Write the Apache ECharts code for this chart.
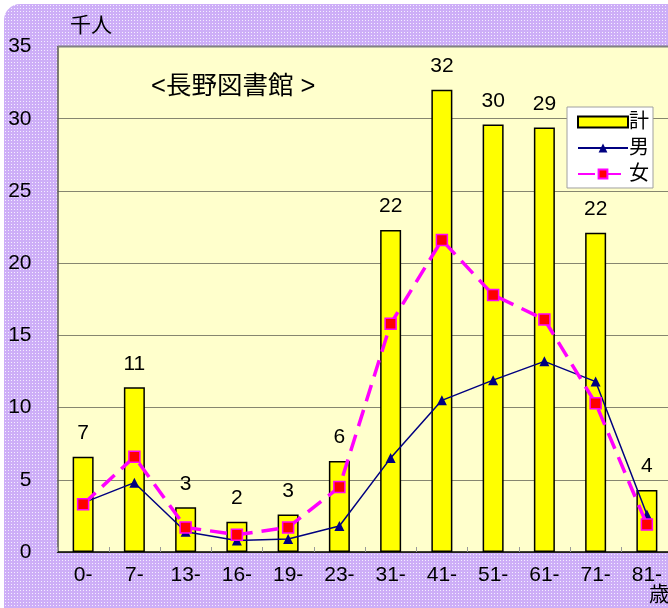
<!DOCTYPE html>
<html><head><meta charset="utf-8">
<script src="https://cdn.jsdelivr.net/npm/echarts@6/dist/echarts.min.js"></script>
<style>
html,body{margin:0;padding:0;background:#fff;overflow:hidden;width:668px;height:608px;}
#bg{position:absolute;left:4px;top:4px;width:700px;height:640px;border-radius:16px;
background-color:#CDAEF7;
background-image:radial-gradient(circle,#F4EEFF 0.7px,transparent 0.9px);
background-size:3px 3px;}
#c{position:absolute;left:0;top:0;width:690px;height:608px;}
</style></head>
<body><div id="bg"></div><div id="c"></div>
<script>
const categories = ['0-','7-','13-','16-','19-','23-','31-','41-','51-','61-','71-','81-'];
const totalValues = [6.6, 11.4, 3.1, 2.1, 2.6, 6.3, 22.3, 32.0, 29.6, 29.4, 22.1, 4.3];
const totalLabels = [7, 11, 3, 2, 3, 6, 22, 32, 30, 29, 22, 4];
const maleValues = [3.4, 4.8, 1.4, 0.8, 0.9, 1.8, 6.5, 10.5, 11.9, 13.2, 11.8, 2.6];
const femaleValues = [3.3, 6.6, 1.7, 1.2, 1.7, 4.5, 15.8, 21.6, 17.8, 16.1, 10.3, 1.9];
const seriesNames = ['計','男','女'];
const yTicks = [0,5,10,15,20,25,30,35];

const FONT = '"Liberation Sans", Arial, "Noto Sans CJK JP", sans-serif';
const chart = echarts.init(document.getElementById('c'), null, {renderer:'canvas'});
chart.setOption({
  backgroundColor: 'transparent',
  animation: false,
  textStyle: {fontFamily: FONT},
  grid: {left: 57.5, top: 46.5, right: 17.5, bottom: 56, show: true,
         backgroundColor: '#FFFFCC', borderWidth: 0},
  legend: {
    orient: 'vertical', left: 567, top: 107, width: 91,
    backgroundColor: '#FFFFFF', borderColor: '#A0A0A0', borderWidth: 1,
    padding: [5, 4, 4, 10], itemGap: 6, itemWidth: 50, itemHeight: 11,
    textStyle: {fontSize: 20, color: '#000', fontFamily: FONT, padding: [0,0,0,-4]},
    data: [
      {name: seriesNames[0], icon: 'rect'},
      {name: seriesNames[1]},
      {name: seriesNames[2]}
    ]
  },
  xAxis: {
    type: 'category', data: categories, boundaryGap: true,
    axisLine: {show: true, lineStyle: {color: '#000', width: 1.5}},
    axisTick: {show: true, inside: true, length: 5, lineStyle: {color: '#999'}},
    axisLabel: {fontSize: 21, color: '#000', margin: 13, fontFamily: FONT},
    splitLine: {show: false}
  },
  yAxis: {
    type: 'value', min: yTicks[0], max: yTicks[yTicks.length-1], interval: 5,
    axisLine: {show: true, lineStyle: {color: '#555', width: 1.5}},
    axisTick: {show: false},
    axisLabel: {fontSize: 21, color: '#000', margin: 26, fontFamily: FONT},
    splitLine: {show: true, lineStyle: {color: '#86866F', width: 1}}
  },
  graphic: [
    {type: 'line', shape: {x1: 58, y1: 46.5, x2: 690, y2: 46.5},
     style: {stroke: '#808080', lineWidth: 2}, z: 5},
    {type: 'text', left: 70, top: 16,
     style: {text: '千人', fontSize: 21, fill: '#000', fontFamily: FONT}},
    {type: 'text', left: 151, top: 74,
     style: {text: '<長野図書館 >', fontSize: 25.5, fill: '#000', fontFamily: FONT}},
    {type: 'text', left: 649, top: 585,
     style: {text: '歳', fontSize: 21, fill: '#000', fontFamily: FONT}}
  ],
  series: [
    {
      name: seriesNames[0], type: 'bar', barWidth: 21,
      data: totalValues,
      itemStyle: {color: '#FFFF00', borderColor: '#000', borderWidth: 1.5},
      label: {show: true, position: 'top', distance: 13, fontSize: 21, color: '#000',
              fontFamily: FONT,
              formatter: p => totalLabels[p.dataIndex]},
      z: 2
    },
    {
      name: seriesNames[1], type: 'line', data: maleValues,
      symbol: 'triangle', symbolSize: 10,
      lineStyle: {color: '#000080', width: 1.5},
      itemStyle: {color: '#000080'},
      z: 3
    },
    {
      name: seriesNames[2], type: 'line', data: femaleValues,
      symbol: 'rect', symbolSize: 11,
      lineStyle: {color: '#FF00FF', width: 3.5, type: [17, 9]},
      itemStyle: {color: '#FF0000', borderColor: '#FF00FF', borderWidth: 1.5},
      z: 4
    }
  ]
});
</script></body></html>
